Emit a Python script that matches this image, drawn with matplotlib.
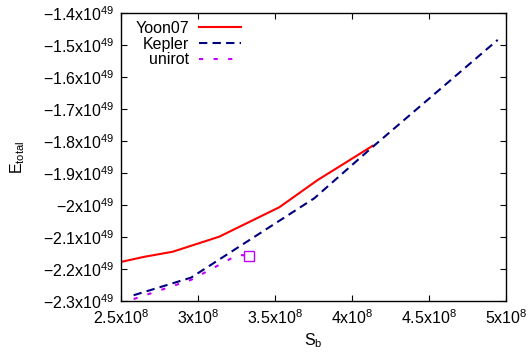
import matplotlib
matplotlib.use("Agg")
import matplotlib.pyplot as plt

# --- dados (S_b em 1e8, E_total em 1e49) ---
yoon_s = [2.508, 2.65, 2.836, 3.138, 3.528, 3.777, 4.134]
yoon_e = [-2.177, -2.162, -2.146, -2.099, -2.007, -1.922, -1.815]

kepler_s = [2.582, 2.955, 3.755, 4.123, 4.946]
kepler_e = [-2.282, -2.227, -1.979, -1.823, -1.484]

unirot_s = [2.582, 2.955, 3.258, 3.333]
unirot_e = [-2.294, -2.234, -2.156, -2.158]

xticks = [2.5, 3.0, 3.5, 4.0, 4.5, 5.0]
xtick_labels = ["2.5x10^8", "3x10^8", "3.5x10^8", "4x10^8", "4.5x10^8", "5x10^8"]
yticks = [-1.4, -1.5, -1.6, -1.7, -1.8, -1.9, -2.0, -2.1, -2.2, -2.3]
ytick_labels = ["-1.4x10^49", "-1.5x10^49", "-1.6x10^49", "-1.7x10^49", "-1.8x10^49",
                "-1.9x10^49", "-2x10^49", "-2.1x10^49", "-2.2x10^49", "-2.3x10^49"]

plt.rcParams["font.family"] = ["Liberation Sans", "DejaVu Sans"]
plt.rcParams["mathtext.default"] = "regular"
fs = 11.5


def sup(t):
    base, exp = t.split("^")
    return r"$\mathregular{%s^{%s}}$" % (base, exp)


fig = plt.figure(figsize=(5.3, 3.53), dpi=100)
ax = fig.add_axes([121 / 530, 1 - 301 / 353, (506 - 121) / 530, (301 - 13) / 353])

ax.plot(yoon_s, yoon_e, color="#ff0000", lw=1.5, label="Yoon07")
ax.plot(kepler_s, kepler_e, color="#000080", lw=1.5, dashes=(4, 2.5), label="Kepler")
ax.plot(unirot_s, unirot_e, color="#c000ff", lw=1.5, dashes=(2, 5), label="unirot")
ax.plot(unirot_s[-1:], unirot_e[-1:], ls="none", marker="s", ms=7, mfc="none",
        mec="#c000ff", mew=1.0)

ax.set_xlim(2.5, 5.0)
ax.set_ylim(-2.3, -1.4)
ax.set_xticks(xticks)
ax.set_xticklabels([sup(t) for t in xtick_labels], fontsize=fs)
ax.set_yticks(yticks)
ax.set_yticklabels([sup(t) for t in ytick_labels], fontsize=fs)
ax.tick_params(direction="in", length=4, width=0.8, top=True, right=True, pad=5)
for s in ax.spines.values():
    s.set_linewidth(1.0)

ax.set_xlabel(r"$\mathregular{S_b}$", fontsize=fs, labelpad=3)
ax.set_ylabel(r"$\mathregular{E_{total}}$", fontsize=fs, labelpad=11)

ax.legend(loc="upper left", bbox_to_anchor=(10 / 385, 1 - 3 / 288), frameon=False,
          markerfirst=False, fontsize=fs, handlelength=2.6, labelspacing=0.05,
          handletextpad=0.6, borderaxespad=0.2, borderpad=0.1)

fig.savefig("out.png", dpi=100)
